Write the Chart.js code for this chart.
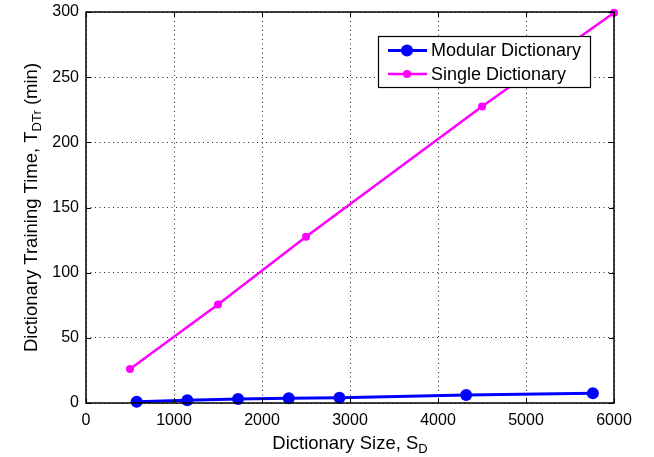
<!DOCTYPE html>
<html>
<head>
<meta charset="utf-8">
<script src="https://cdn.jsdelivr.net/npm/chart.js@4"></script>
<style>
  html, body { margin: 0; padding: 0; background: #fff; }
  #wrap { width: 654px; height: 457px; }
</style>
</head>
<body>
<div id="wrap"><canvas id="c" width="654" height="457"></canvas></div>
<script>
// Dictionary sizes and training times (minutes)
const modularSizes = [576, 1152, 1728, 2304, 2880, 4320, 5760];
const modularTimes = [1.0, 2.1, 3.1, 3.6, 4.1, 6.2, 7.5];
const singleSizes = [500, 1500, 2500, 4500, 6000];
const singleTimes = [26, 75.5, 127.5, 227.5, 299.5];
const xTicks = [0, 1000, 2000, 3000, 4000, 5000, 6000];
const yTicks = [0, 50, 100, 150, 200, 250, 300];
const seriesNames = ['Modular Dictionary', 'Single Dictionary'];

const FONT = '"Liberation Sans", Arial, Helvetica, sans-serif';

function pairs(xs, ys) { return xs.map((x, i) => ({ x: x, y: ys[i] })); }

// Box, inward tick marks, axis titles with subscripts and the legend
const frame = {
  id: 'frame',
  afterDatasetsDraw(chart) {
    const ctx = chart.ctx;
    const a = chart.chartArea;
    const xs = chart.scales.x, ys = chart.scales.y;
    ctx.save();
    ctx.strokeStyle = '#000';
    ctx.lineWidth = 1;
    // inward ticks
    ctx.beginPath();
    const tl = 5;
    xTicks.forEach(v => {
      const px = Math.round(xs.getPixelForValue(v)) + 0.5;
      ctx.moveTo(px, a.bottom); ctx.lineTo(px, a.bottom - tl);
      ctx.moveTo(px, a.top); ctx.lineTo(px, a.top + tl);
    });
    yTicks.forEach(v => {
      const py = Math.round(ys.getPixelForValue(v)) + 0.5;
      ctx.moveTo(a.left, py); ctx.lineTo(a.left + tl, py);
      ctx.moveTo(a.right, py); ctx.lineTo(a.right - tl, py);
    });
    ctx.stroke();
    // axes box
    ctx.lineWidth = 1.5;
    ctx.strokeRect(a.left, a.top, a.right - a.left, a.bottom - a.top);

    // legend
    const lx = 378.5, ly = 36.5, lw = 212, lh = 51;
    ctx.fillStyle = '#fff';
    ctx.fillRect(lx, ly, lw, lh);
    ctx.lineWidth = 1.2;
    ctx.strokeStyle = '#000';
    ctx.strokeRect(lx, ly, lw, lh);
    const rows = [50.5, 74];
    chart.data.datasets.forEach((ds, i) => {
      const y = rows[i];
      ctx.strokeStyle = ds.borderColor;
      ctx.lineWidth = ds.borderWidth;
      ctx.beginPath();
      ctx.moveTo(388, y); ctx.lineTo(427, y);
      ctx.stroke();
      ctx.fillStyle = ds.pointBackgroundColor;
      ctx.beginPath();
      ctx.arc(407, y, ds.pointRadius, 0, Math.PI * 2);
      ctx.fill();
      ctx.fillStyle = '#000';
      ctx.font = '18px ' + FONT;
      ctx.textAlign = 'left';
      ctx.textBaseline = 'middle';
      ctx.fillText(ds.label, 431, y + 1);
    });

    // axis titles
    ctx.fillStyle = '#000';
    ctx.textBaseline = 'alphabetic';
    const main = '18.5px ' + FONT, sub = '13px ' + FONT;
    // x title: Dictionary Size, S_D
    ctx.font = main;
    const xa = 'Dictionary Size, S';
    const wa = ctx.measureText(xa).width;
    ctx.font = sub;
    const wb = ctx.measureText('D').width;
    let x0 = (a.left + a.right) / 2 - (wa + wb) / 2;
    ctx.font = main;
    ctx.textAlign = 'left';
    ctx.fillText(xa, x0, 449);
    ctx.font = sub;
    ctx.fillText('D', x0 + wa, 453);
    // y title: Dictionary Training Time, T_DTr (min)
    ctx.save();
    ctx.translate(37, (a.top + a.bottom) / 2);
    ctx.rotate(-Math.PI / 2);
    const p1 = 'Dictionary Training Time, T', p2 = 'DTr', p3 = ' (min)';
    ctx.font = main;
    const w1 = ctx.measureText(p1).width, w3 = ctx.measureText(p3).width;
    ctx.font = sub;
    const w2 = ctx.measureText(p2).width;
    let s = -(w1 + w2 + w3) / 2;
    ctx.font = main;
    ctx.fillText(p1, s, 0);
    ctx.font = sub;
    ctx.fillText(p2, s + w1, 4);
    ctx.font = main;
    ctx.fillText(p3, s + w1 + w2, 0);
    ctx.restore();
    ctx.restore();
  }
};

new Chart(document.getElementById('c'), {
  type: 'scatter',
  data: {
    datasets: [
      {
        label: seriesNames[0],
        data: pairs(modularSizes, modularTimes),
        showLine: true,
        borderColor: '#0000ff',
        backgroundColor: '#0000ff',
        pointBackgroundColor: '#0000ff',
        pointBorderWidth: 0,
        borderWidth: 3,
        pointRadius: 6,
        clip: false
      },
      {
        label: seriesNames[1],
        data: pairs(singleSizes, singleTimes),
        showLine: true,
        borderColor: '#ff00ff',
        backgroundColor: '#ff00ff',
        pointBackgroundColor: '#ff00ff',
        pointBorderWidth: 0,
        borderWidth: 2.5,
        pointRadius: 4,
        clip: false
      }
    ]
  },
  options: {
    responsive: false,
    animation: false,
    events: [],
    layout: { padding: { left: 0, top: 12, right: 40, bottom: 0 } },
    plugins: { legend: { display: false }, tooltip: { enabled: false } },
    scales: {
      x: {
        type: 'linear',
        min: 0, max: 6000,
        afterBuildTicks: s => { s.ticks = xTicks.map(v => ({ value: v })); },
        afterFit: s => { s.height = 54; s.paddingLeft = 0; s.paddingRight = 0; },
        grid: { color: '#222', lineWidth: 1, drawTicks: false },
        border: { display: false, dash: [1, 3.5] },
        ticks: { padding: 8, color: '#000', font: { family: FONT, size: 16 }, maxRotation: 0, callback: v => String(v) }
      },
      y: {
        type: 'linear',
        min: 0, max: 300,
        afterBuildTicks: s => { s.ticks = yTicks.map(v => ({ value: v })); },
        afterFit: s => { s.width = 86; s.paddingTop = 0; s.paddingBottom = 0; },
        grid: { color: '#222', lineWidth: 1, drawTicks: false },
        border: { display: false, dash: [1, 3.5] },
        ticks: { padding: 7, color: '#000', font: { family: FONT, size: 16 }, callback: v => String(v) }
      }
    }
  },
  plugins: [frame]
});
</script>
</body>
</html>
